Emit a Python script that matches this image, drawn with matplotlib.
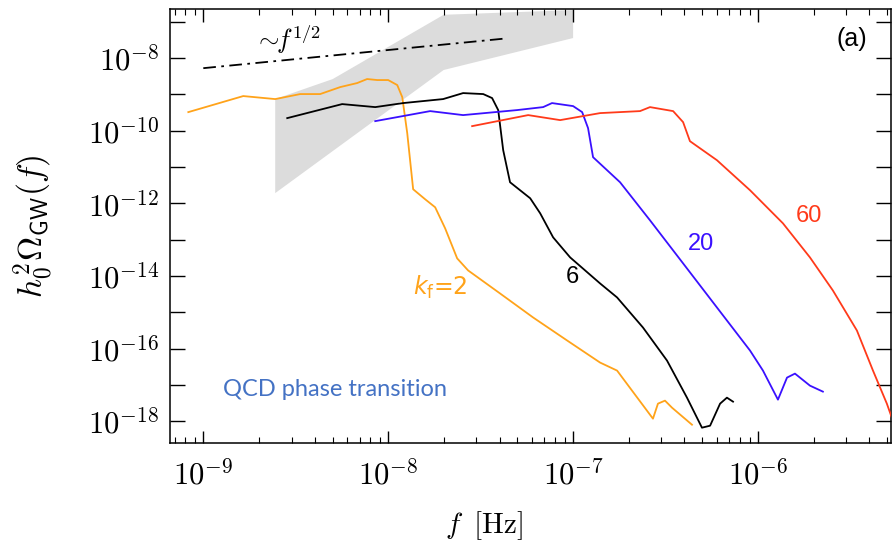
import matplotlib
matplotlib.use("Agg")
import matplotlib.pyplot as plt
import numpy as np
from matplotlib.ticker import LogLocator, FuncFormatter, NullFormatter, FixedLocator

plt.rcParams['mathtext.fontset'] = 'cm'

# log10 f [Hz] and log10 h0^2 Omega_GW
lf_k2 = [-9.081, -8.784, -8.611, -8.476, -8.368, -8.259, -8.168, -8.114, -8.059, -8.000,
         -7.951, -7.924, -7.897, -7.865, -7.800, -7.746, -7.692, -7.627, -7.568, -7.395,
         -7.216, -7.032, -6.854, -6.762, -6.568, -6.541, -6.503, -6.465, -6.357]
lo_k2 = [-9.490, -9.048, -9.131, -8.993, -8.993, -8.800, -8.690, -8.579, -8.607, -8.607,
         -8.745, -9.076, -10.069, -11.614, -11.890, -12.110, -12.690, -13.517, -13.848, -14.483,
         -15.145, -15.779, -16.386, -16.607, -17.931, -17.517, -17.434, -17.628, -18.097]

lf_k6 = [-8.546, -8.249, -8.070, -7.919, -7.703, -7.595, -7.486, -7.438, -7.405, -7.378,
         -7.341, -7.232, -7.178, -7.108, -7.016, -6.854, -6.762, -6.622, -6.492, -6.384,
         -6.303, -6.259, -6.205, -6.168, -6.135]
lo_k6 = [-9.655, -9.269, -9.352, -9.241, -9.131, -8.966, -8.993, -9.103, -9.434, -10.538,
         -11.421, -11.862, -12.276, -12.938, -13.490, -14.207, -14.593, -15.421, -16.331, -17.352,
         -18.179, -18.124, -17.517, -17.352, -17.462]

lf_k20 = [-8.070, -7.773, -7.595, -7.303, -7.162, -7.114, -7.000, -6.951, -6.919, -6.892,
          -6.746, -6.584, -6.405, -6.222, -6.043, -5.973, -5.892, -5.843, -5.800, -5.719, -5.649]
lo_k20 = [-9.738, -9.462, -9.572, -9.434, -9.352, -9.241, -9.324, -9.490, -9.931, -10.731,
          -11.421, -12.469, -13.655, -14.869, -16.055, -16.607, -17.407, -16.800, -16.690, -17.021, -17.186]

lf_k60 = [-7.546, -7.243, -7.070, -6.854, -6.638, -6.584, -6.459, -6.405, -6.368, -6.222,
          -6.043, -5.865, -5.719, -5.595, -5.465, -5.378, -5.303, -5.232]
lo_k60 = [-9.876, -9.572, -9.710, -9.517, -9.462, -9.352, -9.462, -9.766, -10.290, -10.814,
          -11.641, -12.552, -13.490, -14.400, -15.503, -16.607, -17.517, -18.538]

# observational band (upper edge then lower edge, reversed)
band_lf = [-8.611, -8.30, -7.70, -7.0, -7.0, -7.70, -8.611]
band_lo = [-9.13, -8.58, -6.81, -6.68, -7.45, -8.33, -11.72]

# f^(1/2) guide line
guide_lf = [-9.0, -7.38]
guide_lo0 = -8.28

xdecades = [-9, -8, -7, -6]
ydecades = list(range(-18, -6))

fig = plt.figure(figsize=(8.92, 5.44), dpi=100)
ax = fig.add_axes([0.1906, 0.1857, 0.8084, 0.7978])

p = lambda a: 10.0 ** np.array(a, dtype=float)

ax.fill(p(band_lf), p(band_lo), color='#dcdcdc', lw=0, zorder=1)
gx = np.array(guide_lf)
ax.plot(p(gx), p(guide_lo0 + 0.5 * (gx - gx[0])), color='black', lw=1.3,
        dashes=[7, 3, 1.5, 3], zorder=3)

ax.plot(p(lf_k2), p(lo_k2), color='#ffa31a', lw=1.3, zorder=4)
ax.plot(p(lf_k6), p(lo_k6), color='black', lw=1.3, zorder=4)
ax.plot(p(lf_k20), p(lo_k20), color='#3a10ff', lw=1.3, zorder=4)
ax.plot(p(lf_k60), p(lo_k60), color='#ff3a1a', lw=1.3, zorder=4)

ax.set_xscale('log')
ax.set_yscale('log')
ax.set_xlim(10 ** -9.18, 10 ** -5.28)
ax.set_ylim(10 ** -18.6, 10 ** -6.65)

ax.xaxis.set_major_locator(FixedLocator(p(xdecades)))
ax.xaxis.set_minor_locator(LogLocator(base=10, subs=np.arange(2, 10), numticks=20))
ax.xaxis.set_minor_formatter(NullFormatter())
ax.yaxis.set_major_locator(FixedLocator(p(ydecades)))
ax.yaxis.set_minor_locator(plt.NullLocator())


def yfmt(v, pos):
    e = int(round(np.log10(v)))
    return r'$10^{%d}$' % e if e % 2 == 0 else ''


ax.yaxis.set_major_formatter(FuncFormatter(yfmt))
ax.xaxis.set_major_formatter(FuncFormatter(lambda v, pos: r'$10^{%d}$' % int(round(np.log10(v)))))

ax.tick_params(which='both', direction='in', top=True, right=True, labelsize=22)
ax.tick_params(axis='y', which='major', length=11, width=1, pad=8)
ax.tick_params(axis='x', which='major', length=9, width=1, pad=12)
ax.tick_params(axis='x', which='minor', length=4, width=0.8)
for s in ax.spines.values():
    s.set_linewidth(1.1)

ax.set_xlabel(r'$f\;\;[{\rm Hz}]$', fontsize=21)
ax.xaxis.set_label_coords(0.436, -0.152)
ax.set_ylabel(r'$h_0^2\Omega_{\mathsf{GW}}(f)$', fontsize=24)
ax.yaxis.set_label_coords(-0.158, 0.5)

ax.text(10 ** -8.546, 10 ** -7.5, r'$\sim\!\!f^{1/2}$', fontsize=19, ha='center', va='center')
ax.text(0.946, 0.931, '(a)', transform=ax.transAxes, fontsize=18, ha='center', va='center',
        family='Liberation Sans')
ax.text(10 ** -7.719, 10 ** -14.317, r'$k_{\rm f}$=2', color='#ffa31a', fontsize=17,
        ha='center', va='center', family='DejaVu Sans', math_fontfamily='dejavusans')
ax.text(10 ** -7.005, 10 ** -14.04, '6', color='black', fontsize=17, ha='center', va='center',
        family='Liberation Sans')
ax.text(10 ** -6.308, 10 ** -13.131, '20', color='#3a10ff', fontsize=17, ha='center', va='center',
        family='Liberation Sans')
ax.text(10 ** -5.724, 10 ** -12.36, '60', color='#ff3a1a', fontsize=17, ha='center', va='center',
        family='Liberation Sans')
ax.text(10 ** -8.892, 10 ** -17.13, 'QCD phase transition', color='#4472c4', fontsize=17,
        ha='left', va='center', family='Lato')

fig.savefig('out.png', dpi=100)
